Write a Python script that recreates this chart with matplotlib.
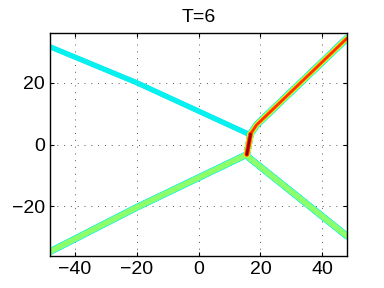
import numpy as np
import matplotlib
matplotlib.use("Agg")
import matplotlib.pyplot as plt

# front branches (x, y) and peak level on the jet scale
upper_left_x = [-48, -20, 15.7]
upper_left_y = [31.6, 20, 3.6]
upper_right_x = [16.8, 18.7, 48]
upper_right_y = [3.4, 6.3, 34.4]
stem_x = [15.6, 16.8]
stem_y = [-3.2, 3.4]
lower_left_x = [-48, -20, 15.2]
lower_left_y = [-34.6, -20.3, -3.4]
lower_right_x = [16.0, 48]
lower_right_y = [-4.0, -29.6]

branches = [
    (upper_left_x, upper_left_y, 0.365, 3.7),
    (lower_left_x, lower_left_y, 0.52, 4.8),
    (lower_right_x, lower_right_y, 0.52, 4.8),
    (upper_right_x, upper_right_y, 0.86, 5.0),
    (stem_x, stem_y, 1.0, 4.6),
]

plt.rcParams['font.family'] = ['Liberation Sans', 'DejaVu Sans']
fig = plt.figure(figsize=(3.84, 2.88), dpi=100)
ax = fig.add_axes([0.130, 0.111, 0.774, 0.774])
cmap = plt.get_cmap('jet')

base = 0.34
for lev in np.arange(base, 1.001, 0.02):
    for bx, by, peak, wmax in branches:
        if lev > peak + 1e-9:
            continue
        frac = ((lev - base) / 0.72) ** 0.85
        if peak >= 1.0:
            frac = ((lev - base) / 0.72) ** 2.0
        w = wmax * (1 - frac)
        ax.plot(bx, by, color=cmap(lev), lw=w, solid_capstyle='round',
                solid_joinstyle='round', zorder=2)

ax.set_xlim(-48, 48)
ax.set_ylim(-36, 36)
ax.set_xticks([-40, -20, 0, 20, 40])
ax.set_yticks([-20, 0, 20])
ax.set_xticklabels(['\u221240', '\u221220', '0', '20', '40'])
ax.set_yticklabels(['\u221220', '0', '20'])
ax.grid(True, color='#555555', linestyle=(0, (1, 6)), linewidth=0.7)
ax.tick_params(direction='in', top=True, right=True, labelsize=14, length=3)
for s in ax.spines.values():
    s.set_linewidth(1.0)
ax.set_title('T=6', fontsize=14, pad=8)

fig.savefig('out.png', dpi=100)
